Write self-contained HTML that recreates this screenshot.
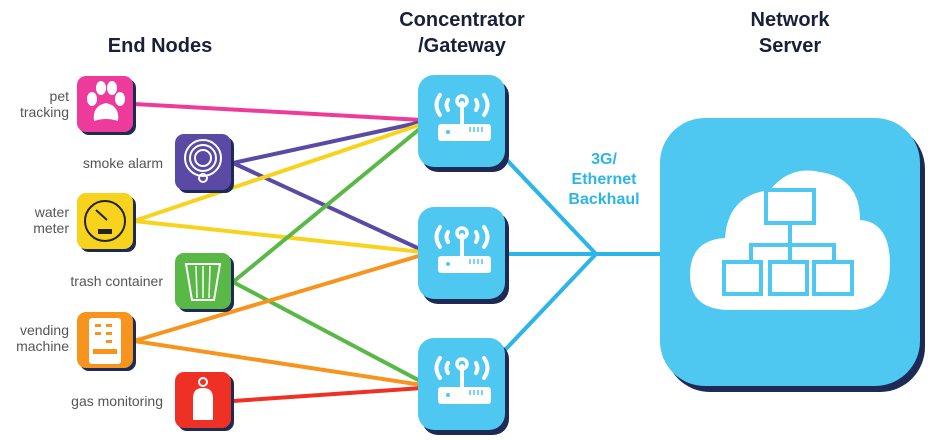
<!DOCTYPE html>
<html><head><style>
body{margin:0;background:#fff;}
svg{display:block;font-family:"Liberation Sans",sans-serif;}
.h{font-weight:bold;font-size:20px;fill:#1a1f3a;text-anchor:middle}
.l{font-size:14px;fill:#555;text-anchor:end}
</style></head><body>
<svg width="940" height="440" viewBox="0 0 940 440">
<defs>
<g id="gw">
<rect x="4" y="5" width="87" height="92" rx="16" fill="#1c2a55"/>
<rect x="0" y="0" width="87" height="92" rx="16" fill="#4ec8f0"/>
<g fill="none" stroke="#fff" stroke-width="4" stroke-linecap="round">
<path d="M22 20 Q15 30 22 40"/><path d="M66 20 Q73 30 66 40"/>
<path d="M30 25 Q27 30 30 35"/><path d="M58 25 Q61 30 58 35"/>
<line x1="44" y1="28" x2="44" y2="48"/>
</g>
<circle cx="44" cy="26" r="5" fill="none" stroke="#fff" stroke-width="3.5"/>
<rect x="20" y="49" width="53" height="17" rx="3" fill="#fff"/>
<circle cx="30" cy="57" r="2" fill="#4ec8f0"/>
<g stroke="#4ec8f0" stroke-width="1.5"><line x1="52" y1="52" x2="52" y2="57"/><line x1="56" y1="52" x2="56" y2="57"/><line x1="60" y1="52" x2="60" y2="57"/><line x1="64" y1="52" x2="64" y2="57"/></g>
</g>
</defs>
<text class="h" x="160" y="52">End Nodes</text>
<text class="h" x="462" y="26">Concentrator</text>
<text class="h" x="462" y="52">/Gateway</text>
<text class="h" x="790" y="26">Network</text>
<text class="h" x="790" y="52">Server</text>

<g stroke-width="4" fill="none">
<line x1="134" y1="104" x2="422" y2="120" stroke="#ee3b9b"/>
<line x1="233" y1="163" x2="422" y2="122" stroke="#5a4aa5"/>
<line x1="233" y1="163" x2="422" y2="250" stroke="#5a4aa5"/>
<line x1="134" y1="221" x2="422" y2="124" stroke="#f7d31e"/>
<line x1="134" y1="221" x2="422" y2="252" stroke="#f7d31e"/>
<line x1="233" y1="282" x2="422" y2="127" stroke="#5ab946"/>
<line x1="233" y1="282" x2="422" y2="382" stroke="#5ab946"/>
<line x1="134" y1="341" x2="422" y2="255" stroke="#f7941d"/>
<line x1="134" y1="341" x2="422" y2="385" stroke="#f7941d"/>
<line x1="233" y1="401" x2="422" y2="388" stroke="#ee3124"/>
</g>
<g stroke="#2cb5e8" stroke-width="4" fill="none">
<line x1="505" y1="158" x2="596" y2="254"/>
<line x1="505" y1="254" x2="662" y2="254"/>
<line x1="505" y1="350" x2="596" y2="254"/>
</g>
<text x="604" y="164" text-anchor="middle" font-weight="bold" font-size="16" fill="#2cb5e8">3G/</text>
<text x="604" y="184" text-anchor="middle" font-weight="bold" font-size="16" fill="#2cb5e8">Ethernet</text>
<text x="604" y="204" text-anchor="middle" font-weight="bold" font-size="16" fill="#2cb5e8">Backhaul</text>

<use href="#gw" x="418" y="75"/>
<use href="#gw" x="418" y="207"/>
<use href="#gw" x="418" y="338"/>

<!-- server -->
<rect x="665" y="124" width="260" height="268" rx="45" fill="#1c2a55"/>
<rect x="660" y="118" width="260" height="268" rx="45" fill="#4ec8f0"/>
<path d="M730 310 Q690 310 690 275 Q690 240 725 238 Q728 195 770 190 Q790 165 820 172 Q860 178 860 220 Q890 222 890 265 Q890 310 850 310 Z" fill="#fff"/>
<g fill="none" stroke="#4ec8f0" stroke-width="4">
<rect x="766" y="190" width="48" height="33"/>
<path d="M790 223 V245 M751 262 V245 H834 V262 M790 245 V262"/>
<rect x="724" y="262" width="37" height="32"/><rect x="770" y="262" width="37" height="32"/><rect x="814" y="262" width="38" height="32"/>
</g>

<!-- end nodes -->
<g>
<rect x="80" y="79" width="56" height="56" rx="9" fill="#1c2a55"/><rect x="77" y="76" width="56" height="56" rx="9" fill="#ee3b9b"/>
<g fill="#fff"><ellipse cx="92" cy="99" rx="5" ry="7"/><ellipse cx="101" cy="88" rx="5" ry="7"/><ellipse cx="112" cy="88" rx="5" ry="7"/><ellipse cx="120" cy="99" rx="5" ry="7"/><path d="M94 121 Q92 106 106 103 Q120 106 118 121 Q106 117 94 121Z"/></g>
<text class="l" x="69" y="101">pet</text><text class="l" x="69" y="117">tracking</text>

<rect x="178" y="137" width="56" height="56" rx="9" fill="#1c2a55"/><rect x="175" y="134" width="56" height="56" rx="9" fill="#5a4aa5"/>
<g fill="none" stroke="#fff" stroke-width="2"><circle cx="203" cy="158" r="18"/><circle cx="203" cy="158" r="13"/><circle cx="203" cy="158" r="8"/><circle cx="203" cy="178" r="4"/></g>
<text class="l" x="163" y="168">smoke alarm</text>

<rect x="80" y="196" width="56" height="56" rx="9" fill="#1c2a55"/><rect x="77" y="193" width="56" height="56" rx="9" fill="#f7d31e"/>
<circle cx="105" cy="221" r="20" fill="none" stroke="#222" stroke-width="2"/>
<line x1="96" y1="210" x2="107" y2="220" stroke="#222" stroke-width="2"/>
<rect x="98" y="229" width="14" height="5" fill="#222"/>
<text class="l" x="69" y="217">water</text><text class="l" x="69" y="233">meter</text>

<rect x="178" y="256" width="56" height="56" rx="9" fill="#1c2a55"/><rect x="175" y="253" width="56" height="56" rx="9" fill="#5ab946"/>
<path d="M186 264 H220 L214 300 H192 Z" fill="none" stroke="#fff" stroke-width="2"/>
<g stroke="#fff" stroke-width="1.5"><line x1="196" y1="266" x2="197" y2="298"/><line x1="203" y1="266" x2="203" y2="298"/><line x1="210" y1="266" x2="209" y2="298"/></g>
<text class="l" x="163" y="286">trash container</text>

<rect x="80" y="315" width="56" height="56" rx="9" fill="#1c2a55"/><rect x="77" y="312" width="56" height="56" rx="9" fill="#f7941d"/>
<rect x="89" y="318" width="32" height="46" rx="3" fill="#fff"/>
<g fill="#f7941d"><rect x="95" y="324" width="6" height="3"/><rect x="106" y="324" width="6" height="3"/><rect x="95" y="332" width="6" height="3"/><rect x="106" y="332" width="6" height="3"/><rect x="106" y="340" width="6" height="3"/><rect x="93" y="349" width="24" height="5"/></g>
<text class="l" x="69" y="335">vending</text><text class="l" x="69" y="351">machine</text>

<rect x="178" y="375" width="56" height="56" rx="9" fill="#1c2a55"/><rect x="175" y="372" width="56" height="56" rx="9" fill="#ee3124"/>
<circle cx="203" cy="382" r="4" fill="none" stroke="#fff" stroke-width="2"/>
<path d="M193 420 V398 Q193 388 203 388 Q213 388 213 398 V420 Z" fill="#fff"/>
<text class="l" x="163" y="406">gas monitoring</text>
</g>
</svg>
</body></html>
